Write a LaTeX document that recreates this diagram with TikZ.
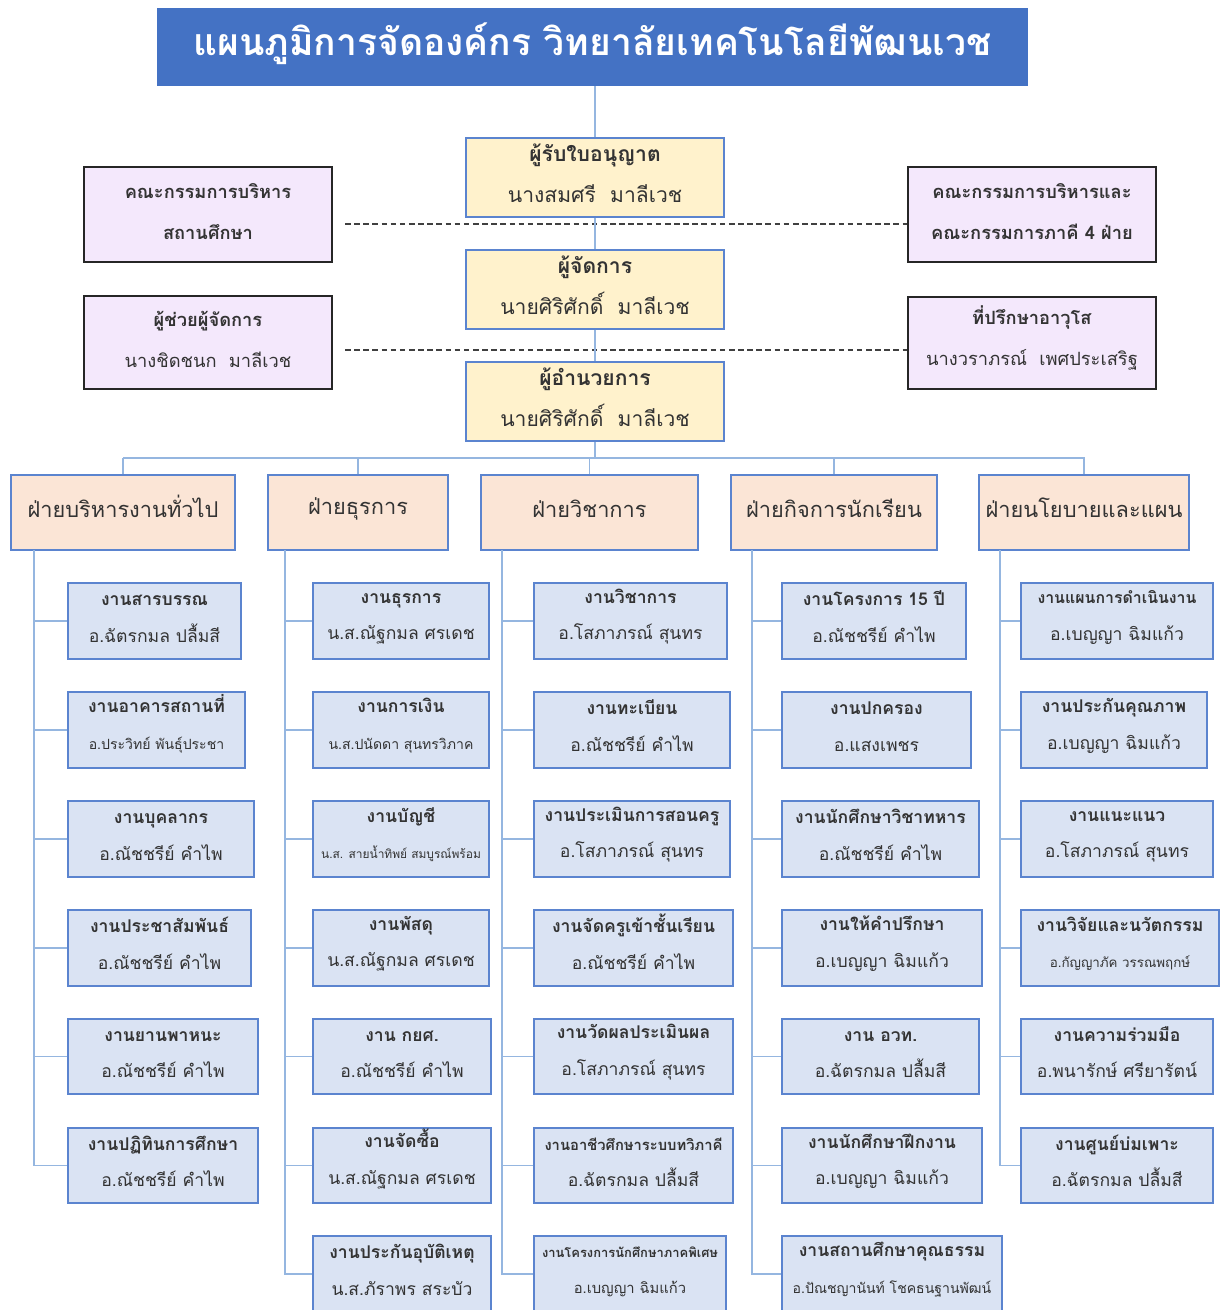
\documentclass[tikz,border=0pt]{standalone}
\usepackage{fontspec}
\setmainfont[Script=Thai]{Loma}
\usetikzlibrary{fit}

\definecolor{titleblue}{HTML}{4472C4}
\definecolor{boxblue}{HTML}{5B84CF}
\definecolor{linkblue}{HTML}{95B6E0}
\definecolor{headfill}{HTML}{FFF2CC}
\definecolor{sidefill}{HTML}{F4E8FC}
\definecolor{divfill}{HTML}{FBE5D6}
\definecolor{jobfill}{HTML}{DAE3F3}
\definecolor{inkgray}{HTML}{333333}

\newcommand{\down}[2]{\raisebox{-#1}[\height][\depth]{#2}}
\newcommand{\headtext}[2]{\down{3.2pt}{#1}\\\down{3.2pt}{#2}}
\newcommand{\jobtext}[2]{\down{2.1pt}{\textbf{#1}}\\\down{2.1pt}{#2}}
\newcommand{\sizedname}[2]{{\fontsize{#1}{12}\selectfont #2}}

\tikzset{
	titlebox/.style={fill=titleblue, inner sep=0pt, text=white, font=\fontsize{26.5}{30}\selectfont\bfseries},
	headbox/.style={draw=boxblue, fill=headfill, line width=1pt, inner sep=0pt, align=center, text=inkgray, font=\fontsize{15}{29}\selectfont},
	sidebox/.style={draw=black!85, fill=sidefill, line width=1pt, inner sep=0pt, align=center, text=inkgray, font=\fontsize{13}{29}\selectfont},
	divbox/.style={draw=boxblue, fill=divfill, line width=1pt, inner sep=0pt, text=inkgray, font=\fontsize{15.5}{20}\selectfont},
	jobbox/.style={draw=boxblue, fill=jobfill, line width=1pt, inner sep=0pt, align=center, text=inkgray, font=\fontsize{12.5}{26}\selectfont},
	link/.style={draw=linkblue, line width=1.3pt},
	dashline/.style={draw=black!75, line width=0.9pt, dash pattern=on 4pt off 2.5pt}
}

\begin{document}
\begin{tikzpicture}[x=0.025cm, y=-0.025cm]
	\useasboundingbox (0,0) rectangle (1222,1310);

	\node[titlebox, fit={(157,8) (1028,86)}] (title) {\down{9.2pt}{แผนภูมิการจัดองค์กร วิทยาลัยเทคโนโลยีพัฒนเวช}};

	\node[headbox, fit={(466,138) (724,217)}] (lic) {\headtext{\textbf{ผู้รับใบอนุญาต}}{นางสมศรี\ \ มาลีเวช}};
	\node[headbox, fit={(466,250) (724,329)}] (mgr) {\headtext{\textbf{ผู้จัดการ}}{นายศิริศักดิ์\ \ มาลีเวช}};
	\node[headbox, fit={(466,362) (724,441)}] (dir) {\headtext{\textbf{ผู้อำนวยการ}}{นายศิริศักดิ์\ \ มาลีเวช}};

	\node[sidebox, fit={(84,167) (332,262)}] (board) {\headtext{\textbf{คณะกรรมการบริหาร}}{\textbf{สถานศึกษา}}};
	\node[sidebox, fit={(84,296) (332,389)}] (asst) {\headtext{\textbf{ผู้ช่วยผู้จัดการ}}{นางชิดชนก\ \ มาลีเวช}};
	\node[sidebox, fit={(908,167) (1156,262)}] (party) {\headtext{\textbf{คณะกรรมการบริหารและ}}{\textbf{คณะกรรมการภาคี 4 ฝ่าย}}};
	\node[sidebox, fit={(908,297) (1156,389)}] (senior) {\headtext{\textbf{ที่ปรึกษาอาวุโส}}{นางวราภรณ์\ \ เพศประเสริฐ}};

	\coordinate (dash1) at (345,224);
	\coordinate (dash2) at (345,350);
	\draw[dashline] (dash1) -- (party.west |- dash1);
	\draw[dashline] (dash2) -- (senior.west |- dash2);

	\node[divbox, fit={(11,475) (235,550)}] (fGen) {\down{3.5pt}{ฝ่ายบริหารงานทั่วไป}};
	\node[divbox, fit={(268,475) (448,550)}] (fBiz) {\down{3.5pt}{ฝ่ายธุรการ}};
	\node[divbox, fit={(481,475) (698,550)}] (fAca) {\down{3.5pt}{ฝ่ายวิชาการ}};
	\node[divbox, fit={(731,475) (937,550)}] (fStu) {\down{3.5pt}{ฝ่ายกิจการนักเรียน}};
	\node[divbox, fit={(979,475) (1189,550)}] (fPol) {\down{3.5pt}{ฝ่ายนโยบายและแผน}};

	\coordinate (busL) at (123,458);
	\coordinate (busR) at (1085,458);
	\draw[link] (lic.north |- title.south) -- (lic.north);
	\draw[link] (lic) -- (mgr);
	\draw[link] (mgr) -- (dir);
	\draw[link] (dir.south) -- (dir.south |- busL);
	\draw[link] (busL) -- (busR);
	\foreach \f in {fGen,fBiz,fAca,fStu,fPol}
		\draw[link] (\f.north) -- (\f.north |- busL);

	\node[jobbox, fit={(68,583) (241,659)}] (gen1) {\jobtext{งานสารบรรณ}{อ.ฉัตรกมล ปลื้มสี}};
	\node[jobbox, fit={(68,692) (245,768)}] (gen2) {\jobtext{งานอาคารสถานที่}{\sizedname{10}{อ.ประวิทย์ พันธุ์ประชา}}};
	\node[jobbox, fit={(68,801) (254,877)}] (gen3) {\jobtext{งานบุคลากร}{อ.ณัชชรีย์ คำไพ}};
	\node[jobbox, fit={(68,910) (251,986)}] (gen4) {\jobtext{งานประชาสัมพันธ์}{อ.ณัชชรีย์ คำไพ}};
	\node[jobbox, fit={(68,1019) (258,1094)}] (gen5) {\jobtext{งานยานพาหนะ}{อ.ณัชชรีย์ คำไพ}};
	\node[jobbox, fit={(68,1128) (258,1203)}] (gen6) {\jobtext{งานปฏิทินการศึกษา}{อ.ณัชชรีย์ คำไพ}};

	\node[jobbox, fit={(313,583) (489,659)}] (biz1) {\jobtext{งานธุรการ}{น.ส.ณัฐกมล ศรเดช}};
	\node[jobbox, fit={(313,692) (489,768)}] (biz2) {\jobtext{งานการเงิน}{\sizedname{10}{น.ส.ปนัดดา สุนทรวิภาค}}};
	\node[jobbox, fit={(313,801) (489,877)}] (biz3) {\jobtext{งานบัญชี}{\sizedname{8.5}{น.ส. สายน้ำทิพย์ สมบูรณ์พร้อม}}};
	\node[jobbox, fit={(313,910) (489,986)}] (biz4) {\jobtext{งานพัสดุ}{น.ส.ณัฐกมล ศรเดช}};
	\node[jobbox, fit={(313,1019) (491,1094)}] (biz5) {\jobtext{งาน กยศ.}{อ.ณัชชรีย์ คำไพ}};
	\node[jobbox, fit={(313,1128) (491,1203)}] (biz6) {\jobtext{งานจัดซื้อ}{น.ส.ณัฐกมล ศรเดช}};
	\node[jobbox, fit={(313,1236) (491,1312)}] (biz7) {\jobtext{งานประกันอุบัติเหตุ}{น.ส.ภัราพร สระบัว}};

	\node[jobbox, fit={(534,583) (727,659)}] (aca1) {\jobtext{งานวิชาการ}{อ.โสภาภรณ์ สุนทร}};
	\node[jobbox, fit={(534,692) (730,768)}] (aca2) {\jobtext{งานทะเบียน}{อ.ณัชชรีย์ คำไพ}};
	\node[jobbox, fit={(534,801) (730,877)}] (aca3) {\jobtext{งานประเมินการสอนครู}{อ.โสภาภรณ์ สุนทร}};
	\node[jobbox, fit={(534,910) (733,986)}] (aca4) {\jobtext{งานจัดครูเข้าชั้นเรียน}{อ.ณัชชรีย์ คำไพ}};
	\node[jobbox, fit={(534,1019) (733,1094)}] (aca5) {\jobtext{งานวัดผลประเมินผล}{อ.โสภาภรณ์ สุนทร}};
	\node[jobbox, fit={(534,1128) (733,1203)}] (aca6) {\jobtext{\sizedname{10.5}{งานอาชีวศึกษาระบบทวิภาคี}}{อ.ฉัตรกมล ปลื้มสี}};
	\node[jobbox, fit={(534,1236) (726,1312)}] (aca7) {\jobtext{\sizedname{9.2}{งานโครงการนักศึกษาภาคพิเศษ}}{\sizedname{10.5}{อ.เบญญา ฉิมแก้ว}}};

	\node[jobbox, fit={(782,583) (966,659)}] (stu1) {\jobtext{งานโครงการ 15 ปี}{อ.ณัชชรีย์ คำไพ}};
	\node[jobbox, fit={(782,692) (971,768)}] (stu2) {\jobtext{งานปกครอง}{อ.แสงเพชร}};
	\node[jobbox, fit={(782,801) (979,877)}] (stu3) {\jobtext{งานนักศึกษาวิชาทหาร}{อ.ณัชชรีย์ คำไพ}};
	\node[jobbox, fit={(782,910) (982,986)}] (stu4) {\jobtext{งานให้คำปรึกษา}{อ.เบญญา ฉิมแก้ว}};
	\node[jobbox, fit={(782,1019) (979,1094)}] (stu5) {\jobtext{งาน อวท.}{อ.ฉัตรกมล ปลื้มสี}};
	\node[jobbox, fit={(782,1128) (982,1203)}] (stu6) {\jobtext{งานนักศึกษาฝึกงาน}{อ.เบญญา ฉิมแก้ว}};
	\node[jobbox, fit={(782,1236) (1002,1312)}] (stu7) {\jobtext{งานสถานศึกษาคุณธรรม}{\sizedname{10}{อ.ปัณชญานันท์ โชคธนฐานพัฒน์}}};

	\node[jobbox, fit={(1021,583) (1213,659)}] (pol1) {\jobtext{\sizedname{11.3}{งานแผนการดำเนินงาน}}{อ.เบญญา ฉิมแก้ว}};
	\node[jobbox, fit={(1021,692) (1207,768)}] (pol2) {\jobtext{งานประกันคุณภาพ}{อ.เบญญา ฉิมแก้ว}};
	\node[jobbox, fit={(1021,801) (1213,877)}] (pol3) {\jobtext{งานแนะแนว}{อ.โสภาภรณ์ สุนทร}};
	\node[jobbox, fit={(1021,910) (1219,986)}] (pol4) {\jobtext{งานวิจัยและนวัตกรรม}{\sizedname{9.5}{อ.กัญญาภัค วรรณพฤกษ์}}};
	\node[jobbox, fit={(1021,1019) (1213,1094)}] (pol5) {\jobtext{งานความร่วมมือ}{อ.พนารักษ์ ศรียารัตน์}};
	\node[jobbox, fit={(1021,1128) (1213,1203)}] (pol6) {\jobtext{งานศูนย์บ่มเพาะ}{อ.ฉัตรกมล ปลื้มสี}};

	\coordinate (railGen) at (34,550);
	\coordinate (railBiz) at (285,550);
	\coordinate (railAca) at (502,550);
	\coordinate (railStu) at (752,550);
	\coordinate (railPol) at (1000,550);
	\draw[link] (railGen) |- (gen6.west);
	\draw[link] (railBiz) |- (biz7.west);
	\draw[link] (railAca) |- (aca7.west);
	\draw[link] (railStu) |- (stu7.west);
	\draw[link] (railPol) |- (pol6.west);
	\foreach \n in {1,...,5}
		\draw[link] (gen\n.west) -- (gen\n.west -| railGen);
	\foreach \n in {1,...,6}
		\draw[link] (biz\n.west) -- (biz\n.west -| railBiz);
	\foreach \n in {1,...,6}
		\draw[link] (aca\n.west) -- (aca\n.west -| railAca);
	\foreach \n in {1,...,6}
		\draw[link] (stu\n.west) -- (stu\n.west -| railStu);
	\foreach \n in {1,...,5}
		\draw[link] (pol\n.west) -- (pol\n.west -| railPol);
\end{tikzpicture}
\end{document}
